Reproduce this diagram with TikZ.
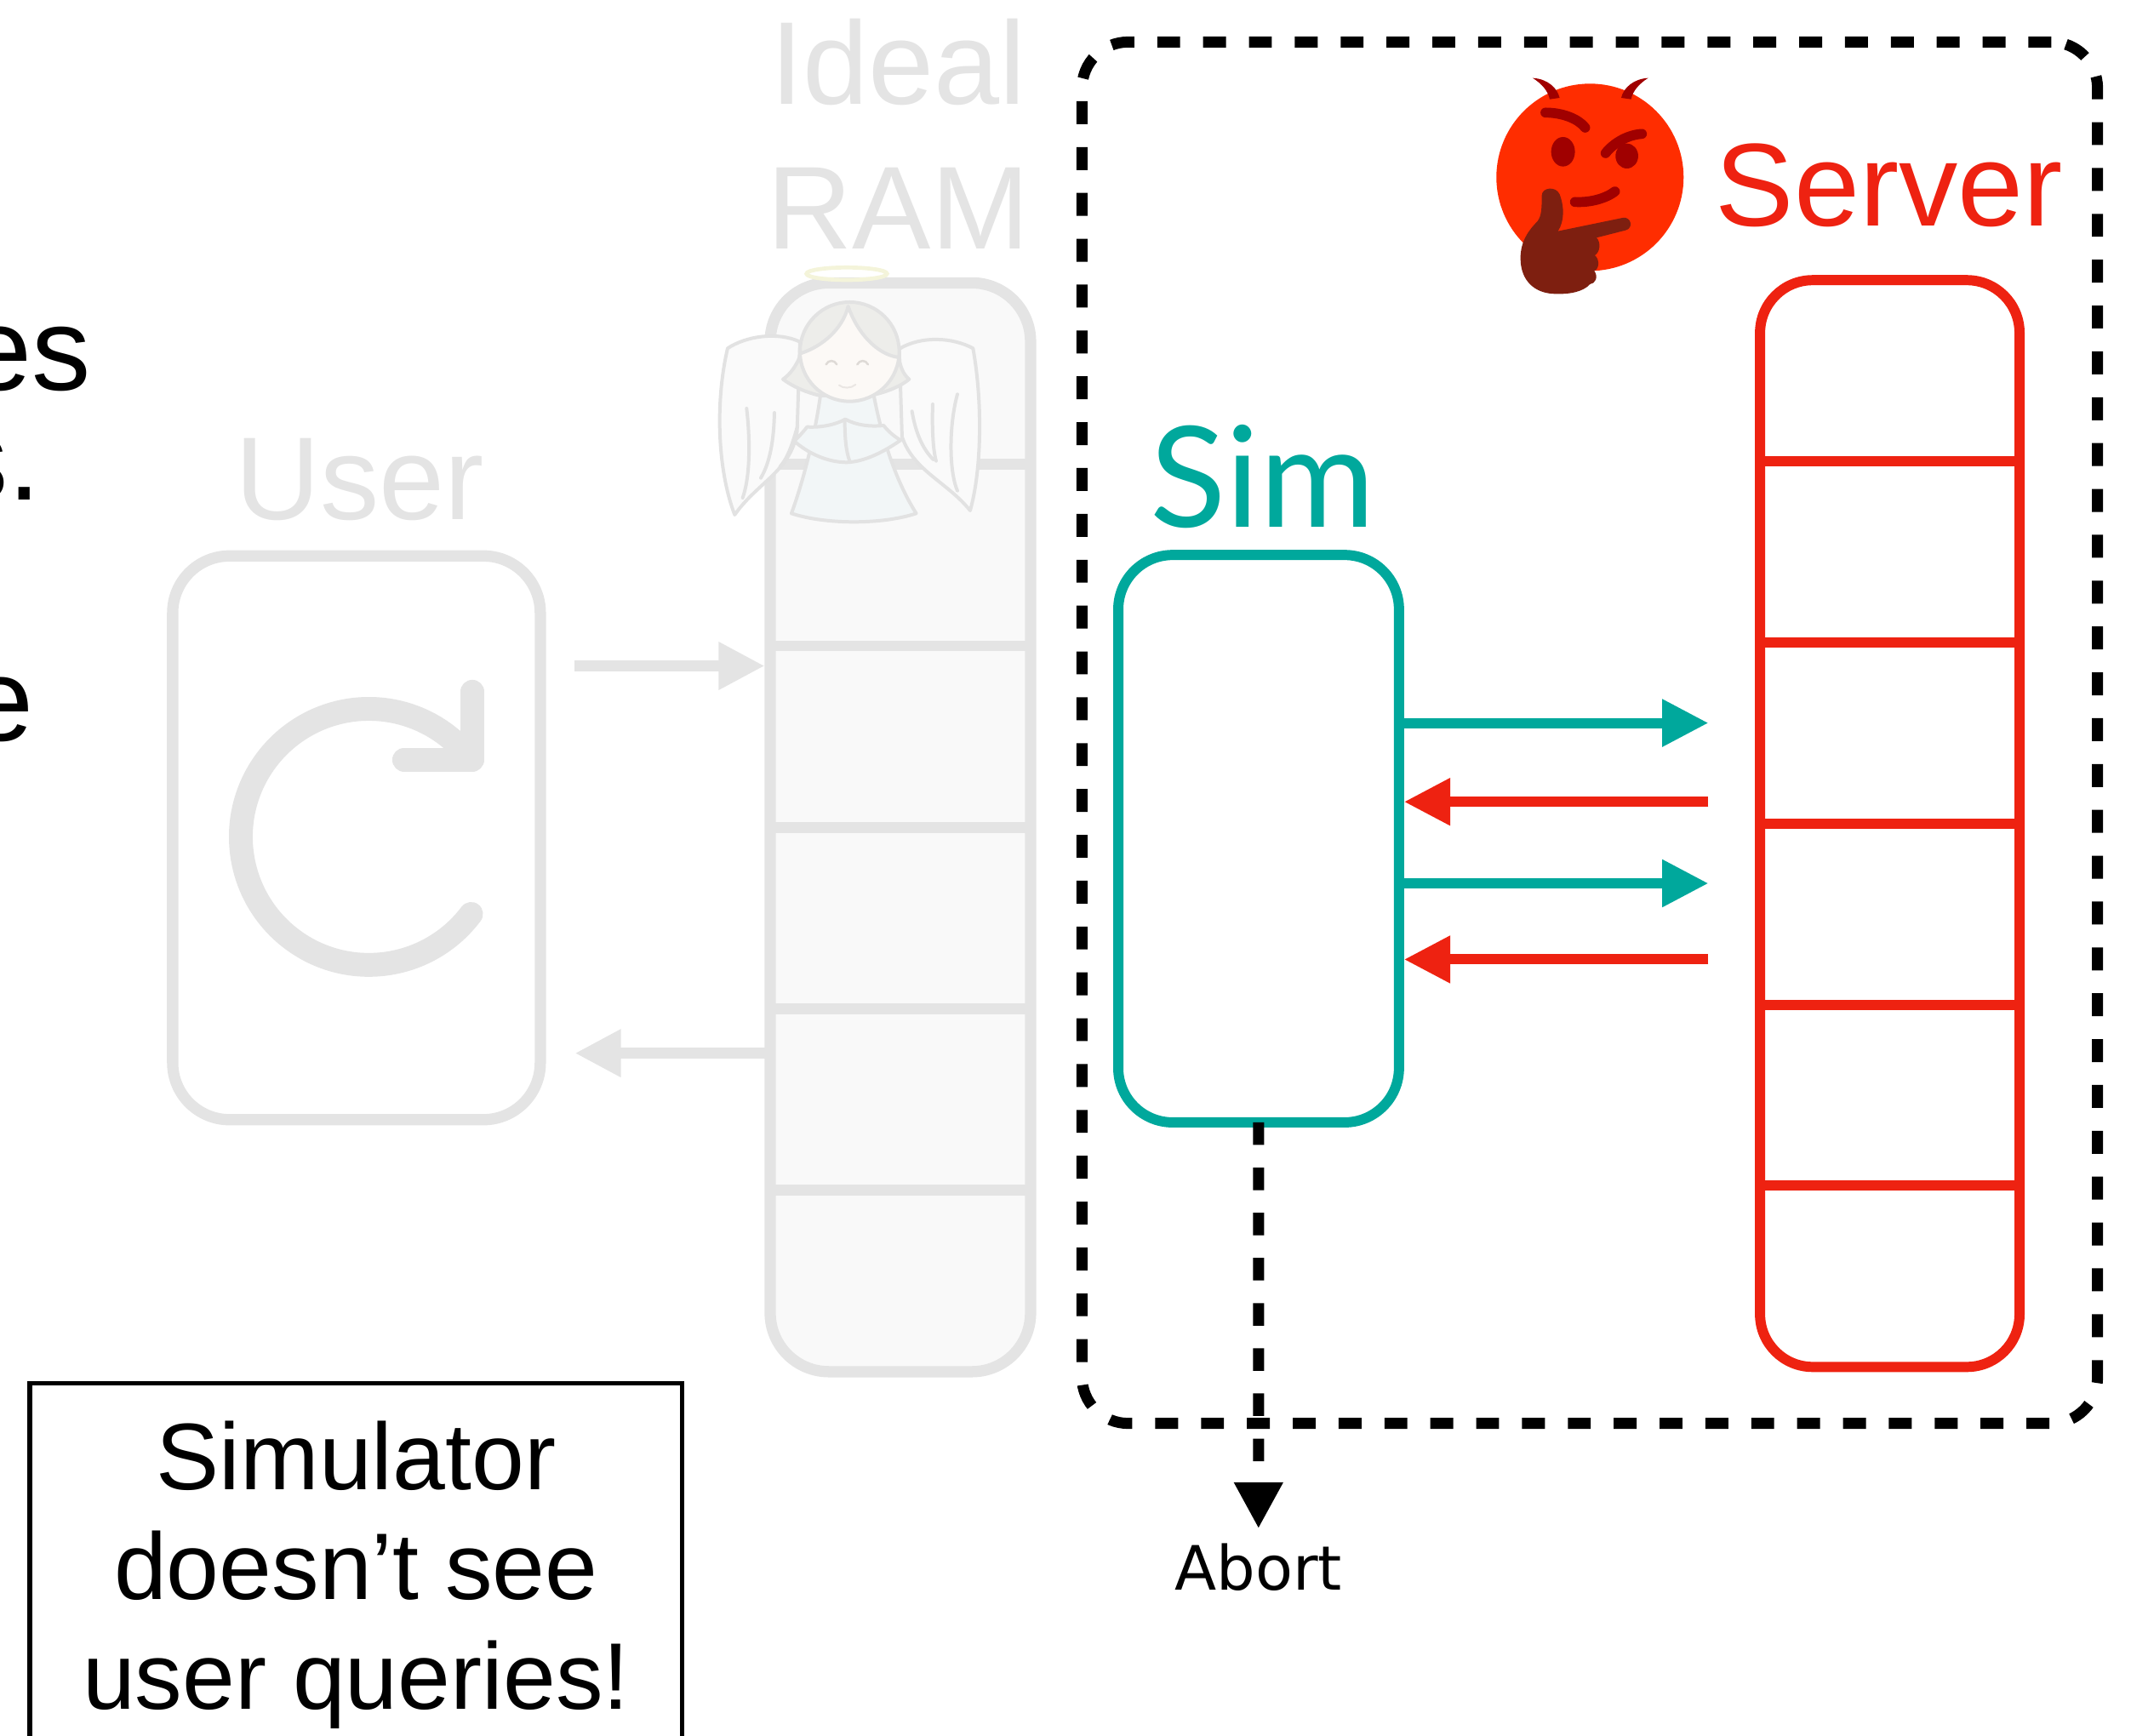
\documentclass[tikz,border=0pt]{standalone}
\usepackage{fontspec}
\setmainfont{Liberation Sans}
\newfontfamily\simfont{Lato}
\newfontfamily\abortfont{DejaVu Sans}
\usetikzlibrary{arrows.meta,calc}

\definecolor{simteal}{RGB}{0,168,156}
\definecolor{servred}{RGB}{238,34,17}
\definecolor{faint}{RGB}{228,228,228}
\definecolor{ramfill}{RGB}{249,249,249}
\definecolor{devilred}{RGB}{255,45,0}
\definecolor{devildark}{RGB}{160,0,0}
\definecolor{handbrown}{RGB}{126,31,16}
\definecolor{angelline}{RGB}{226,226,226}
\definecolor{wingfill}{RGB}{250,250,250}
\definecolor{hairfill}{RGB}{237,237,234}
\definecolor{facefill}{RGB}{252,249,246}
\definecolor{dressfill}{RGB}{242,246,247}
\definecolor{halocol}{RGB}{244,244,218}
\definecolor{featurecol}{RGB}{222,218,214}

\begin{document}
\begin{tikzpicture}[x=0.016cm, y=-0.016cm,
  bigtext/.style={font=\fontsize{39.5}{48}\selectfont, inner sep=0, outer sep=0},
  notetext/.style={font=\fontsize{31.7}{37}\selectfont, inner sep=0},
  box/.style={inner sep=0, outer sep=0},
  qarrow/.style={-{Triangle[length=0.544cm,width=0.53cm]}},
  cell/.style={line width=0.128cm},
  angel/.style={draw=angelline, line width=0.04cm, line join=round, line cap=round},
  devilstroke/.style={draw=devildark, line width=0.117cm, line cap=round}]

\useasboundingbox (0,0) rectangle (1568,1277);

% cut-off lines of text at the left margin
\begin{scope}
  \clip (0,0) rectangle (1568,1277);
  \node[bigtext, anchor=base east] (fragA) at (67,287) {es};
  \node[bigtext, anchor=base east] (fragB) at (30,368) {s.};
  \node[bigtext, anchor=base east] (fragC) at (25,545) {e};
\end{scope}

% ---------- user ----------
\node[box, draw=faint, fill=white, line width=0.133cm, rounded corners=0.67cm,
      minimum width=4.33cm, minimum height=6.64cm] (user) at (262.3,616.5) {};
\node[bigtext, anchor=base, text=faint] (userlabel) at (264.5,382) {User};
% repeat icon
\draw[faint, line width=0.28cm, line cap=round, line join=round]
  (271.4,615.8) ++(37:94.2) arc[start angle=37, end angle=323, radius=94.2];
\draw[faint, line width=0.28cm, line cap=round, line join=round]
  (297.4,559) -- (347.5,559) -- (347.5,509);

% ---------- ideal RAM ----------
\node[box, draw=faint, fill=ramfill, line width=0.133cm, rounded corners=0.69cm,
      minimum width=3.066cm, minimum height=12.824cm] (ram) at (662.5,608.75) {};
\foreach \k in {1,...,5}
  \draw[faint, cell] ($(ram.north west)!\k/6!(ram.south west)$) -- ($(ram.north east)!\k/6!(ram.south east)$);
\node[bigtext, anchor=base, text=faint] (ideal) at (661,77) {Ideal};
\node[bigtext, anchor=base, text=faint] (ramlabel) at (661,183) {RAM};

% angel sitting on the ideal RAM
\begin{scope}[shift={(513.46,187.85)}, scale=0.20873]
  % wings
  \filldraw[angel, fill=wingfill] (360,305) .. controls (280,268) and (170,285) .. (105,328)
    .. controls (60,520) and (70,760) .. (130,915)
    .. controls (210,800) and (330,760) .. (350,620) -- cycle;
  \filldraw[angel, fill=wingfill] (710,330) .. controls (790,282) and (900,290) .. (970,328)
    .. controls (1005,520) and (1000,760) .. (960,900)
    .. controls (880,800) and (760,760) .. (720,640) -- cycle;
  \draw[angel] (172,540) .. controls (185,650) and (185,780) .. (158,855);
  \draw[angel] (270,555) .. controls (268,650) and (255,730) .. (222,785);
  \draw[angel] (352,600) .. controls (335,660) and (320,710) .. (290,745);
  \draw[angel] (915,490) .. controls (885,600) and (885,760) .. (915,830);
  \draw[angel] (828,525) .. controls (825,620) and (830,690) .. (840,725);
  \draw[angel] (755,550) .. controls (770,640) and (800,690) .. (830,720);
  % hair falling at the sides
  \filldraw[angel, fill=hairfill] (370,330) .. controls (350,390) and (325,420) .. (300,437)
    .. controls (345,470) and (395,487) .. (440,497) -- (620,492)
    .. controls (670,480) and (715,462) .. (745,437)
    .. controls (725,420) and (712,395) .. (705,340) -- cycle;
  % dress and collar
  \filldraw[angel, fill=dressfill] (432,495) .. controls (410,650) and (370,800) .. (330,910)
    .. controls (450,950) and (650,950) .. (770,910)
    .. controls (700,800) and (650,650) .. (620,492) -- cycle;
  \filldraw[angel, fill=dressfill] (385,605) .. controls (440,608) and (490,595) .. (520,578)
    .. controls (560,600) and (610,605) .. (655,600)
    .. controls (675,625) and (695,640) .. (715,652)
    .. controls (660,690) and (590,728) .. (525,730)
    .. controls (460,730) and (390,700) .. (340,655)
    .. controls (355,640) and (370,625) .. cycle;
  \draw[angel] (518,580) .. controls (518,640) and (522,690) .. (535,725);
  % head
  \fill[hairfill] (535,340) circle[radius=175];
  \fill[facefill] (365,345) .. controls (440,320) and (510,260) .. (530,180)
    .. controls (560,270) and (630,350) .. (708,360)
    .. controls (700,470) and (620,515) .. (535,515)
    .. controls (440,515) and (365,450) .. cycle;
  \draw[angel] (365,345) .. controls (440,320) and (510,260) .. (530,180)
    .. controls (560,270) and (630,350) .. (708,360);
  \draw[angel] (535,340) circle[radius=175];
  \draw[draw=featurecol, line width=0.025cm, line cap=round] (452,385) .. controls (460,368) and (482,368) .. (490,385);
  \draw[draw=featurecol, line width=0.025cm, line cap=round] (562,385) .. controls (570,368) and (592,368) .. (600,385);
  \draw[draw=featurecol!60!facefill, line width=0.02cm, line cap=round] (498,458) .. controls (512,470) and (540,470) .. (556,456);
  % halo
  \draw[halocol, line width=0.047cm] (525,65) ellipse[x radius=142, y radius=22];
\end{scope}

% user <-> ideal RAM
\coordinate (yq) at (0,490);
\coordinate (ya) at (0,775);
\coordinate (ugap) at ([xshift=0.406cm]user.east);
\coordinate (redge) at ([xshift=-0.064cm]ram.west);
\draw[faint, line width=0.134cm, qarrow] (ugap |- yq) -- (redge |- yq);
\draw[faint, line width=0.134cm, qarrow] (ram.west |- ya) -- (ugap |- ya);

% ---------- adversary region ----------
\node[box, draw=black, line width=0.13cm, rounded corners=0.544cm,
      dash pattern=on 0.27cm off 0.27cm,
      minimum width=11.96cm, minimum height=16.27cm] (adv) at (1169.75,539.15) {};

% server
\node[box, draw=servred, line width=0.12cm, rounded corners=0.62cm,
      minimum width=3.056cm, minimum height=12.8cm] (server) at (1390.5,606) {};
\foreach \k in {1,...,5}
  \draw[servred, line width=0.12cm] ($(server.north west)!\k/6!(server.south west)$) -- ($(server.north east)!\k/6!(server.south east)$);
\node[bigtext, anchor=base, text=servred] (serverlabel) at (1390,166) {Server};

% devil emoji
\begin{scope}[shift={(1089.55,43.83)}, scale=0.20873]
  \fill[devilred] (385,415) circle[radius=330];
  \fill[devildark] (183,65) .. controls (235,68) and (270,100) .. (278,135) -- (243,140)
    .. controls (238,112) and (215,85) .. cycle;
  \fill[devildark] (590,65) .. controls (538,68) and (503,100) .. (495,135) -- (530,140)
    .. controls (535,112) and (558,85) .. cycle;
  \draw[devilstroke] (228,187) .. controls (290,187) and (345,210) .. (368,240);
  \fill[devildark] (290,325) ellipse[x radius=42, y radius=52];
  \fill[devildark] (515,340) ellipse[x radius=40, y radius=44];
  \draw[devilstroke] (440,330) .. controls (470,292) and (520,265) .. (568,262);
  \draw[devilstroke] (332,502) .. controls (385,505) and (440,490) .. (473,465);
  \fill[handbrown] (215,480) .. controls (215,450) and (265,445) .. (278,475)
    .. controls (295,520) and (295,570) .. (272,605)
    -- (500,558) .. controls (530,552) and (540,595) .. (510,602)
    -- (408,628) .. controls (425,645) and (420,680) .. (402,690)
    .. controls (420,705) and (418,738) .. (400,745)
    .. controls (415,765) and (405,790) .. (385,792)
    .. controls (360,820) and (310,828) .. (260,826)
    .. controls (190,824) and (140,780) .. (140,700)
    .. controls (140,640) and (170,600) .. (200,570)
    .. controls (215,550) and (215,520) .. cycle;
\end{scope}

% simulator
\node[box, draw=simteal, fill=white, line width=0.12cm, rounded corners=0.64cm,
      minimum width=3.306cm, minimum height=6.683cm] (sim) at (926.1,617.15) {};
\node[anchor=base, inner sep=0, text=simteal, font=\simfont\fontsize{47}{52}\selectfont] (simlabel) at (929,388) {Sim};

% queries and answers
\coordinate (sgap) at ([xshift=-0.608cm]server.west);
\coordinate (sedge) at ([xshift=0.06cm]sim.east);
\coordinate (q1) at (0,532);
\coordinate (a1) at (0,590);
\coordinate (q2) at (0,650);
\coordinate (a2) at (0,706);
\draw[simteal, line width=0.12cm, qarrow] (sim.east |- q1) -- (sgap |- q1);
\draw[servred, line width=0.12cm, qarrow] (sgap |- a1) -- (sedge |- a1);
\draw[simteal, line width=0.12cm, qarrow] (sim.east |- q2) -- (sgap |- q2);
\draw[servred, line width=0.12cm, qarrow] (sgap |- a2) -- (sedge |- a2);

% abort
\node[anchor=base, inner sep=0, font=\abortfont\fontsize{20.5}{24}\selectfont] (abort) at (926,1170) {Abort};
\draw[line width=0.13cm, dash pattern=on 0.266cm off 0.266cm,
      -{Triangle[length=0.544cm,width=0.544cm]}] (sim.south) -- ([yshift=0.17cm]abort.north);

% note
\node[box, draw=black, line width=0.056cm, anchor=north,
      minimum width=7.68cm, minimum height=4.9cm] (note) at (262,1018) {};
\node[notetext, anchor=base] (noteA) at (262,1096) {Simulator};
\node[notetext, anchor=base] (noteB) at (262,1177) {doesn’t see};
\node[notetext, anchor=base] (noteC) at (262,1258) {user queries!};

\end{tikzpicture}
\end{document}
